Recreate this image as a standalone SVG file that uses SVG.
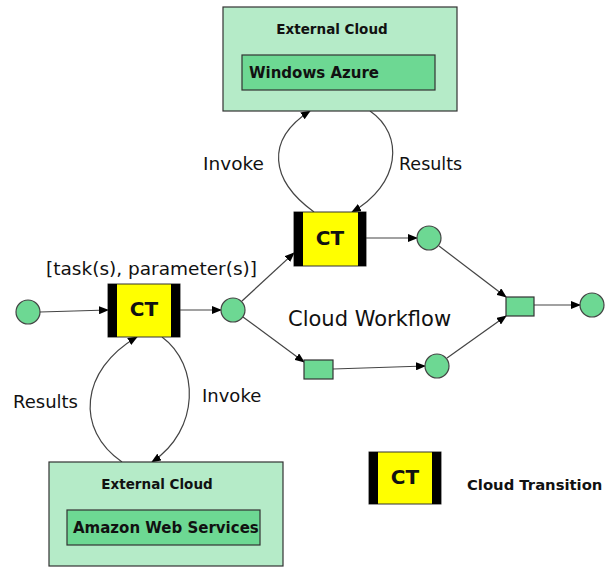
<svg xmlns="http://www.w3.org/2000/svg" width="606" height="567" viewBox="0 0 606 567">
<defs>
<marker id="ah" markerWidth="10" markerHeight="8" refX="9" refY="4" orient="auto" markerUnits="userSpaceOnUse">
<path d="M0,0 L10,4 L0,8 Z" fill="#000"/>
</marker>
<style>
.cloud{fill:#b5ebc8;stroke:#333;stroke-width:1.2}
.inner{fill:#6dd893;stroke:#333;stroke-width:1.2}
.place{fill:#6dd893;stroke:#444;stroke-width:1.2}
.trans{fill:#6dd893;stroke:#333;stroke-width:1.2}
.ctbody{fill:#ffff00;stroke:#333;stroke-width:1}
.bar{fill:#000}
.edge{fill:none;stroke:#444;stroke-width:1.2;marker-end:url(#ah)}
text{font-family:"DejaVu Sans","Verdana",sans-serif;fill:#111}
.hdr{font-size:13.5px;font-weight:bold}
.svc{font-size:15px;font-weight:bold}
.ct{font-size:20px;font-weight:bold;text-anchor:middle}
.lbl{font-size:18px}
</style>
</defs>

<g id="connectors">
<line class="edge" x1="40" y1="312" x2="108" y2="310"/>
<line class="edge" x1="180" y1="310" x2="221" y2="310"/>
<line class="edge" x1="242" y1="301" x2="294" y2="253"/>
<line class="edge" x1="243" y1="317" x2="304" y2="362"/>
<line class="edge" x1="366" y1="238" x2="417" y2="238"/>
<line class="edge" x1="439" y1="246" x2="506" y2="297"/>
<line class="edge" x1="333" y1="369" x2="425" y2="366"/>
<line class="edge" x1="447" y1="358" x2="506" y2="316"/>
<line class="edge" x1="534" y1="305" x2="580" y2="305"/>
<path class="edge" d="M314,212 C270,180 265,140 310,111"/>
<path class="edge" d="M370,111 C405,135 400,185 352,212"/>
<path class="edge" d="M122,462 C75,430 80,370 137,337"/>
<path class="edge" d="M162,337 C200,365 200,430 152,462"/>
</g>

<g id="cloud-azure">
<rect class="cloud" x="223" y="7" width="234" height="104"/>
<text class="hdr" x="332" y="34" text-anchor="middle">External Cloud</text>
<rect class="inner" x="242" y="55" width="193" height="35"/>
<text class="svc" x="249" y="78">Windows Azure</text>
</g>

<g id="cloud-aws">
<rect class="cloud" x="49" y="462" width="234" height="104"/>
<text class="hdr" x="157" y="489" text-anchor="middle">External Cloud</text>
<rect class="inner" x="67" y="510" width="193" height="35"/>
<text class="svc" x="73" y="533">Amazon Web Services</text>
</g>

<g id="ct-top">
<rect class="ctbody" x="294" y="212" width="72" height="54"/>
<rect class="bar" x="294" y="212" width="9" height="54"/>
<rect class="bar" x="358" y="212" width="8" height="54"/>
<text class="ct" x="330" y="245">CT</text>
</g>

<g id="ct-left">
<rect class="ctbody" x="108" y="284" width="72" height="53"/>
<rect class="bar" x="108" y="284" width="9" height="53"/>
<rect class="bar" x="171" y="284" width="9" height="53"/>
<text class="ct" x="144" y="316">CT</text>
<text class="lbl" x="46" y="275" style="font-size:18.5px">[task(s), parameter(s)]</text>
</g>

<g id="ct-legend">
<rect class="ctbody" x="369" y="452" width="72" height="52"/>
<rect class="bar" x="369" y="452" width="9" height="52"/>
<rect class="bar" x="432" y="452" width="9" height="52"/>
<text class="ct" x="405" y="484">CT</text>
<text x="467" y="490" style="font-size:14.8px;font-weight:bold">Cloud Transition</text>
</g>

<g id="p-start"><circle class="place" cx="28" cy="312" r="12"/></g>
<g id="p-mid"><circle class="place" cx="233" cy="310" r="12"/></g>
<g id="p-top"><circle class="place" cx="429" cy="238" r="12"/></g>
<g id="p-low"><circle class="place" cx="437" cy="366" r="12"/></g>
<g id="p-end"><circle class="place" cx="592" cy="305" r="12"/></g>
<g id="t-low"><rect class="trans" x="304" y="360" width="29" height="19"/></g>
<g id="t-join"><rect class="trans" x="506" y="297" width="28" height="19"/></g>

<g id="labels">
<text class="lbl" x="203" y="170" style="font-size:18.5px">Invoke</text>
<text class="lbl" x="399" y="170" style="font-size:17.5px">Results</text>
<text class="lbl" x="13" y="408">Results</text>
<text class="lbl" x="202" y="402">Invoke</text>
<text x="288" y="326" style="font-size:21px">Cloud Workflow</text>
</g>
</svg>
